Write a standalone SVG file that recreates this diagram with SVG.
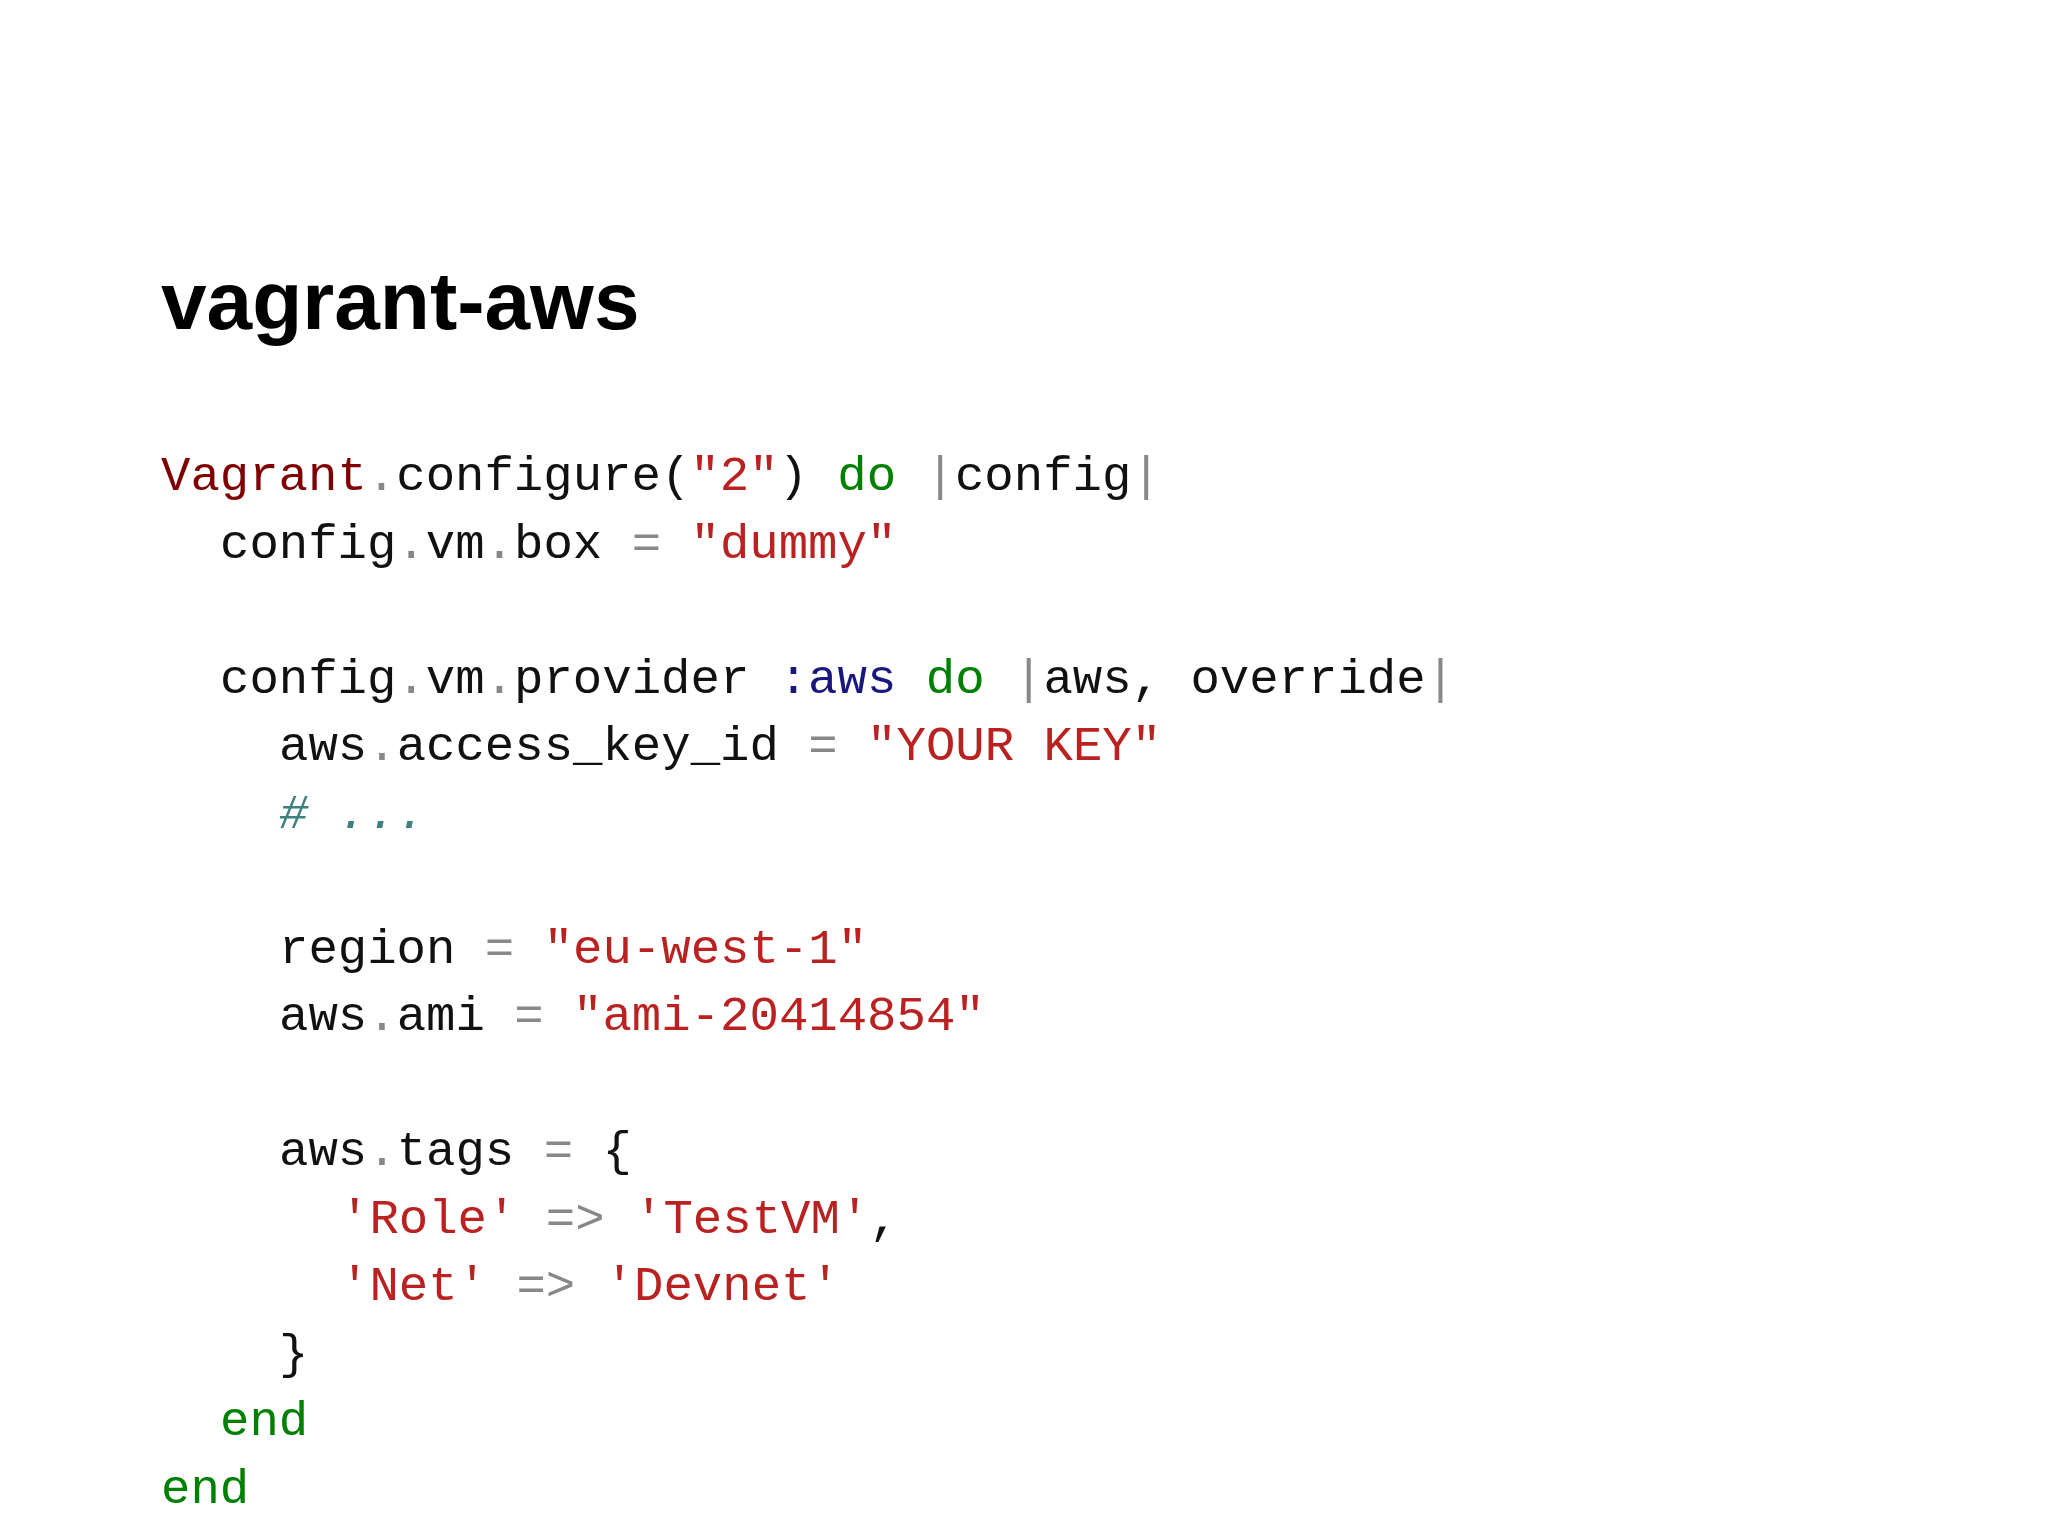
<svg xmlns="http://www.w3.org/2000/svg" width="2048" height="1536" viewBox="0 0 2048 1536" xml:space="preserve">
<style>
.c{font-family:"Liberation Mono","DejaVu Sans Mono",monospace;font-size:49px;fill:#111;white-space:pre}
.k{fill:#008000}.s{fill:#ba2121}.v{fill:#800000}.y{fill:#19177c}.p{fill:#888}.m{fill:#408080;font-style:italic}
</style>
<rect width="2048" height="1536" fill="#fff"/>
<g id="title"><text x="161" y="329" font-family="Liberation Sans,Arial,sans-serif" font-weight="bold" font-size="82" fill="#000">vagrant-aws</text></g>
<g id="code" class="c">
<text x="161" y="490"><tspan class="v">Vagrant</tspan><tspan class="p">.</tspan>configure(<tspan class="s">"2"</tspan>) <tspan class="k">do</tspan> <tspan class="p">|</tspan>config<tspan class="p">|</tspan></text>
<text x="220" y="557.5">config<tspan class="p">.</tspan>vm<tspan class="p">.</tspan>box <tspan class="p">=</tspan> <tspan class="s">"dummy"</tspan></text>
<text x="220" y="692.5">config<tspan class="p">.</tspan>vm<tspan class="p">.</tspan>provider <tspan class="y">:aws</tspan> <tspan class="k">do</tspan> <tspan class="p">|</tspan>aws, override<tspan class="p">|</tspan></text>
<text x="279" y="760">aws<tspan class="p">.</tspan>access_key_id <tspan class="p">=</tspan> <tspan class="s">"YOUR KEY"</tspan></text>
<text x="279" y="827.5" class="m"># ...</text>
<text x="279" y="962.5">region  <tspan class="p">=</tspan> <tspan class="s">"eu-west-1"</tspan></text>
<text x="279" y="1030">aws<tspan class="p">.</tspan>ami <tspan class="p">=</tspan> <tspan class="s">"ami-20414854"</tspan></text>
<text x="279" y="1165">aws<tspan class="p">.</tspan>tags <tspan class="p">=</tspan> {</text>
<text x="340" y="1232.5"><tspan class="s">'Role'</tspan> <tspan class="p">=&gt;</tspan> <tspan class="s">'TestVM'</tspan>,</text>
<text x="340" y="1300"><tspan class="s">'Net'</tspan>  <tspan class="p">=&gt;</tspan> <tspan class="s">'Devnet'</tspan></text>
<text x="279" y="1367.5">}</text>
<text x="220" y="1435" class="k">end</text>
<text x="161" y="1502.5" class="k">end</text>
</g>
</svg>
